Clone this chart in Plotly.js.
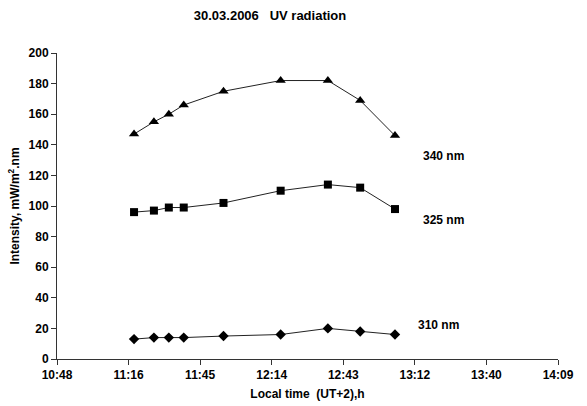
<!DOCTYPE html>
<html><head><meta charset="utf-8">
<script src="https://cdn.plot.ly/plotly-3.0.1.min.js"></script>
<style>body{margin:0;background:#fff}#chart{width:587px;height:406px}</style>
</head><body><div id="chart"></div>
<script>
const times = ["11:19","11:27","11:33","11:39","11:55","12:18","12:37","12:50","13:04"];
const uv340 = [147,155,160,166,175,182,182,169,146];
const uv325 = [96,97,99,99,102,110,114,112,98];
const uv310 = [13,14,14,14,15,16,20,18,16];
const tickTimes = ["10:48:00","11:16:48","11:45:36","12:14:24","12:43:12","13:12:00","13:40:48","14:09:36"];
const tickLabels = ["10:48","11:16","11:45","12:14","12:43","13:12","13:40","14:09"];
const seriesNames = ["340 nm","325 nm","310 nm"];
const day = "2006-03-30 ";
const xs = times.map(t => day + t);
const FONT = "'Liberation Sans Narrow', 'Arial Narrow', Arial, sans-serif";
function tr(y, sym, name, size){
  return {x: xs, y: y, type:'scatter', mode:'lines+markers', name:name,
    line:{color:'#222', width:1},
    marker:{symbol:sym, size:size, color:'#000'}};
}
const data = [tr(uv340,'triangle-up',seriesNames[0],9), tr(uv325,'square',seriesNames[1],8), tr(uv310,'diamond',seriesNames[2],8)];
const labelPos = [[day+"13:14:30",133],[day+"13:14:30",91],[day+"13:12:30",22]];
const layout = {
  width:587, height:406, showlegend:false,
  paper_bgcolor:'#fff', plot_bgcolor:'#fff',
  margin:{l:57, r:29, t:53, b:47},
  font:{family:FONT, color:'#000', size:12},
  title:{text:'<b>30.03.2006   UV radiation</b>', x:270/587, xanchor:'center', y:0.963, yanchor:'middle', font:{size:13, family:FONT}},
  xaxis:{type:'date', range:[day+tickTimes[0], day+tickTimes[7]], tickvals:tickTimes.map(t=>day+t), ticktext:tickLabels.map(s=>'<b>'+s+'</b>'),
    showgrid:false, zeroline:false, showline:true, linecolor:'#333', linewidth:1, ticks:'outside', ticklen:5, tickcolor:'#333',
    tickfont:{size:12}, title:{text:'<b>Local time  (UT+2),h</b>', font:{size:12}, standoff:8}},
  yaxis:{range:[0,200], dtick:20, tick0:0, showgrid:false, zeroline:false, showline:true, linecolor:'#333', linewidth:1, ticks:'outside', ticklen:5, tickcolor:'#333',
    tickfont:{size:12}, tickprefix:'<b>', ticksuffix:'</b>', title:{text:'<b>Intensity, mW/m<sup>2</sup>.nm</b>', font:{size:12}, standoff:6}},
  annotations: seriesNames.map((n,i)=>({x:labelPos[i][0], y:labelPos[i][1], xref:'x', yref:'y', text:'<b>'+n+'</b>', showarrow:false, xanchor:'left', font:{size:12}}))
};
Plotly.newPlot('chart', data, layout, {displayModeBar:false, staticPlot:true});
</script></body></html>
